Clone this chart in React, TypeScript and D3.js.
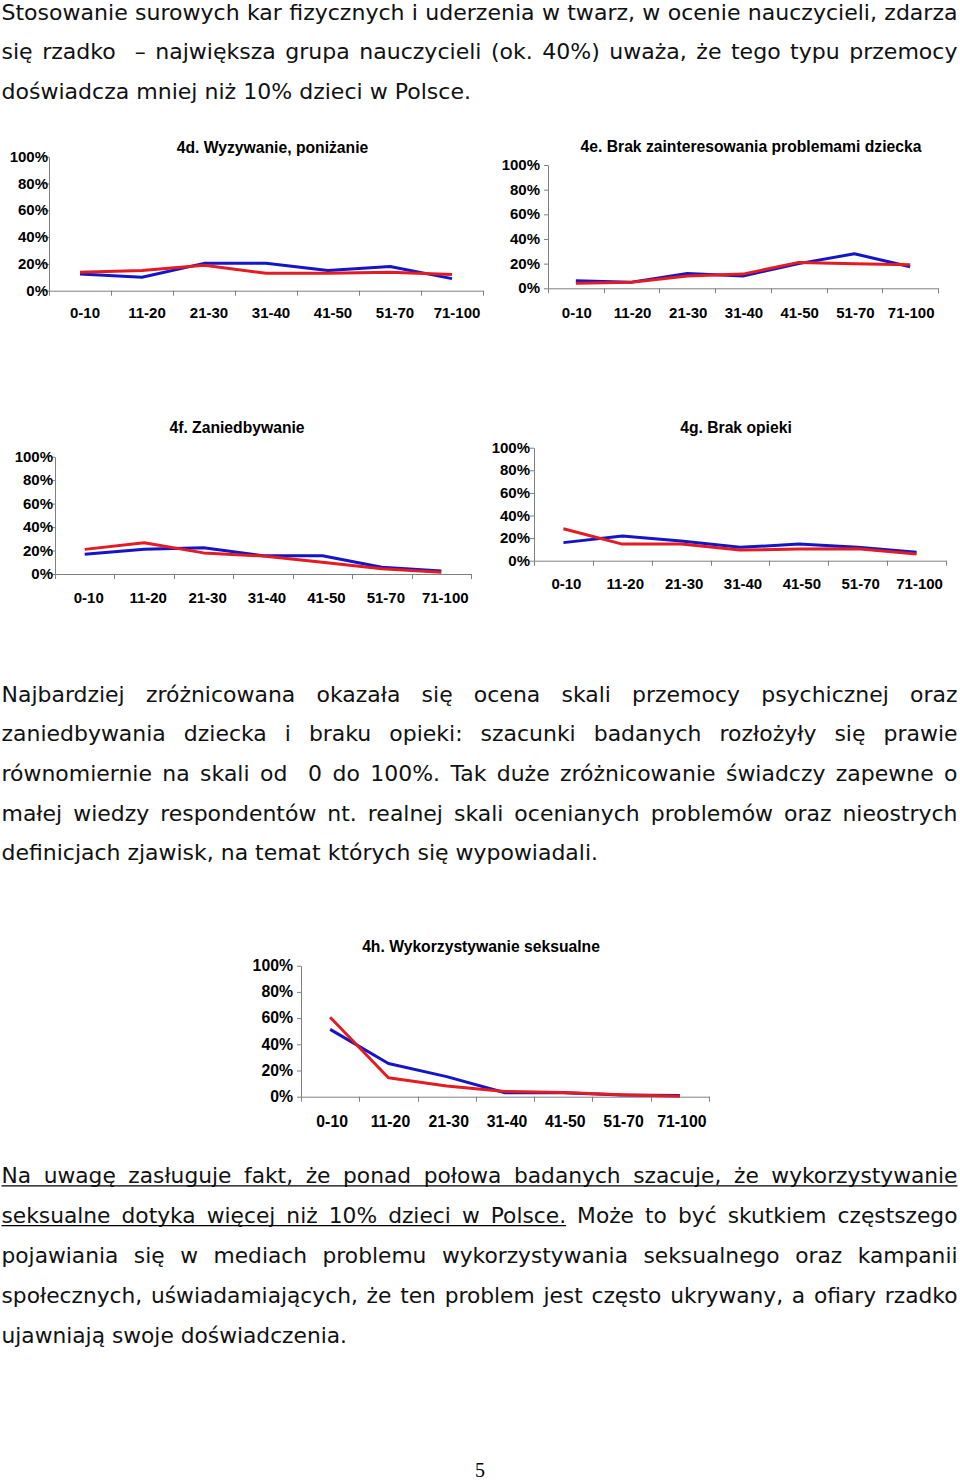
import React, { useRef, useEffect } from 'react';
import * as d3 from 'd3';

// age brackets (% of children affected)
const categories = ['0-10', '11-20', '21-30', '31-40', '41-50', '51-70', '71-100'];
const yTicks = [0, 20, 40, 60, 80, 100];

const blue4d = [12.4, 10, 20.4, 20.4, 15, 18, 9];
const red4d = [13.7, 15, 19, 13, 13, 13.7, 12];
const blue4e = [6.2, 5, 12, 10, 20, 28, 17.5];
const red4e = [4, 5, 10, 11.5, 21, 20, 19];
const blue4f = [16.8, 21, 22.4, 15.6, 15.6, 5.7, 2.6];
const red4f = [21, 26.7, 18, 15.3, 10, 4.5, 1.4];
const blue4g = [16, 21.8, 17.4, 11.8, 14.7, 11.8, 7.4];
const red4g = [28.3, 14.7, 14.7, 9.4, 10.3, 10.6, 5.9];
const blue4h = [51.4, 25.4, 15.3, 3, 3, 1.3, 1];
const red4h = [60.6, 14.5, 8.1, 4, 3.3, 1.5, 0.3];

const para1 = [
  'Stosowanie surowych kar fizycznych i uderzenia w twarz, w ocenie nauczycieli, zdarza',
  'się rzadko  – największa grupa nauczycieli (ok. 40%) uważa, że tego typu przemocy',
  'doświadcza mniej niż 10% dzieci w Polsce.',
];
const para2 = [
  'Najbardziej zróżnicowana okazała się ocena skali przemocy psychicznej oraz',
  'zaniedbywania dziecka i braku opieki: szacunki badanych rozłożyły się prawie',
  'równomiernie na skali od  0 do 100%. Tak duże zróżnicowanie świadczy zapewne o',
  'małej wiedzy respondentów nt. realnej skali ocenianych problemów oraz nieostrych',
  'definicjach zjawisk, na temat których się wypowiadali.',
];
const para3 = [
  'Na uwagę zasługuje fakt, że ponad połowa badanych szacuje, że wykorzystywanie',
  'seksualne dotyka więcej niż 10% dzieci w Polsce. Może to być skutkiem częstszego',
  'pojawiania się w mediach problemu wykorzystywania seksualnego oraz kampanii',
  'społecznych, uświadamiających, że ten problem jest często ukrywany, a ofiary rzadko',
  'ujawniają swoje doświadczenia.',
];

const BLUE = '#1515c8';
const RED = '#e31b23';
const AXIS = '#808080';
const CHART_FONT = '"Liberation Sans", Arial, sans-serif';
const BODY_FONT = '"DejaVu Sans", Verdana, sans-serif';

const charts = [
  { title: '4d. Wyzywanie, poniżanie', blue: blue4d, red: red4d, x0: 49, x1: 483, yTop: 156.7, y0: 290.7, gap: 1, labelY: 318, labelDx: 5, tx: 272.5, ty: 153, fs: 15 },
  { title: '4e. Brak zainteresowania problemami dziecka', blue: blue4e, red: red4e, x0: 548, x1: 938, yTop: 165, y0: 288.3, gap: 8, labelY: 318, labelDx: 1, tx: 751, ty: 152, fs: 15 },
  { title: '4f. Zaniedbywanie', blue: blue4f, red: red4f, x0: 55, x1: 471, yTop: 456.7, y0: 574, gap: 2, labelY: 603, labelDx: 4, tx: 237, ty: 433, fs: 15 },
  { title: '4g. Brak opieki', blue: blue4g, red: red4g, x0: 534, x1: 946, yTop: 447.7, y0: 560.7, gap: 4, labelY: 589, labelDx: 3, tx: 736, ty: 432.5, fs: 15 },
  { title: '4h. Wykorzystywanie seksualne', blue: blue4h, red: red4h, x0: 301, x1: 709, yTop: 965.7, y0: 1096.7, gap: 8, labelY: 1127, labelDx: 2, tx: 481, ty: 951.5, fs: 15.8 },
];

const paras = [
  { lines: para1, baselines: [19.5, 59.2, 98.8], lastEnd: 471, underline: [0, 0, 0] },
  { lines: para2, baselines: [701.5, 741.2, 780.9, 820.6, 860.3], lastEnd: 598, underline: [0, 0, 0, 0, 0] },
  { lines: para3, baselines: [1183.3, 1223.1, 1262.9, 1302.7, 1342.5], lastEnd: 347, underline: [99, 8, 0, 0, 0] },
];

const LEFT = 1.5;
const RIGHT = 957.5;
const BODY_SIZE = 20.5;

function drawChart(svg: any, c: any) {
  const x = d3.scaleBand().domain(categories).range([c.x0, c.x1]);
  const y = d3.scaleLinear().domain([0, 100]).range([c.y0, c.yTop]);
  const g = svg.append('g');

  const ya = g.append('g')
    .attr('transform', `translate(${c.x0},0)`)
    .call(d3.axisLeft(y).tickValues(yTicks).tickSize(4).tickSizeOuter(0)
      .tickPadding(c.gap - 4).tickFormat((d: any) => d + '%'));
  ya.attr('font-family', CHART_FONT).attr('font-size', c.fs).attr('font-weight', 'bold');
  ya.select('.domain').attr('stroke', AXIS);
  ya.selectAll('.tick line').attr('stroke', AXIS);
  ya.selectAll('text').attr('fill', '#000').attr('dy', '0.3em');

  const xa = g.append('g')
    .attr('transform', `translate(0,${c.y0})`)
    .call(d3.axisBottom(x).tickSize(0).tickSizeOuter(0));
  xa.attr('font-family', CHART_FONT).attr('font-size', c.fs).attr('font-weight', 'bold');
  xa.select('.domain').attr('stroke', AXIS);
  xa.selectAll('text').attr('fill', '#000').attr('y', c.labelY - c.y0).attr('dy', 0).attr('dx', c.labelDx);

  const bounds = [...categories.map(d => x(d) as number), c.x1];
  g.selectAll('line.bt').data(bounds).join('line')
    .attr('x1', (d: number) => Math.round(d) + 0.5).attr('x2', (d: number) => Math.round(d) + 0.5)
    .attr('y1', c.y0).attr('y2', c.y0 + 5)
    .attr('stroke', AXIS);

  const line = d3.line<number>()
    .x((_, i) => (x(categories[i]) as number) + x.bandwidth() / 2)
    .y(d => y(d));

  [[c.blue, BLUE], [c.red, RED]].forEach(([vals, col]) => {
    g.append('path').attr('d', line(vals as number[]))
      .attr('fill', 'none').attr('stroke', col as string)
      .attr('stroke-width', 3).attr('stroke-linejoin', 'round');
  });

  g.append('text').attr('x', c.tx).attr('y', c.ty)
    .attr('text-anchor', 'middle').attr('font-family', CHART_FONT)
    .attr('font-weight', 'bold').attr('font-size', 15.7).attr('fill', '#000')
    .text(c.title);
}

function drawPara(svg: any, p: any) {
  const probe = svg.append('text').attr('font-family', BODY_FONT).attr('font-size', BODY_SIZE);
  const measure = (s: string) => {
    if (!s) return 0;
    probe.text(s);
    return (probe.node() as SVGTextElement).getComputedTextLength();
  };
  const spaceW = measure('a a') - measure('aa');
  const tokens = p.lines.map((l: string) => l.split(' '));
  const widths = tokens.map((t: string[]) => t.map(measure));
  probe.remove();

  const n = tokens.length;
  const lastW = widths[n - 1];
  const natural = d3.sum(lastW) + (lastW.length - 1) * spaceW;
  const k = (p.lastEnd - LEFT) / natural;

  tokens.forEach((toks: string[], li: number) => {
    const ws = widths[li].map((w: number) => w * k);
    const last = li === n - 1;
    const gapW = last ? spaceW * k : (RIGHT - LEFT - d3.sum(ws)) / (toks.length - 1);
    let xPos = LEFT;
    const ends: number[] = [];
    toks.forEach((t, i) => {
      if (t) {
        svg.append('text').attr('x', xPos).attr('y', p.baselines[li])
          .attr('font-family', BODY_FONT).attr('font-size', BODY_SIZE).attr('fill', '#111')
          .attr('textLength', ws[i]).attr('lengthAdjust', 'spacingAndGlyphs')
          .text(t);
      }
      xPos += ws[i];
      ends.push(xPos);
      xPos += gapW;
    });
    const u = Math.min(p.underline[li], toks.length);
    if (u > 0) {
      svg.append('line').attr('x1', LEFT).attr('x2', ends[u - 1])
        .attr('y1', p.baselines[li] + 2.6).attr('y2', p.baselines[li] + 2.6)
        .attr('stroke', '#000').attr('stroke-width', 1.3);
    }
  });
}

export default function App() {
  const ref = useRef<SVGSVGElement>(null);

  useEffect(() => {
    const svg = d3.select(ref.current);
    svg.selectAll('*').remove();

    paras.forEach(p => drawPara(svg, p));
    charts.forEach(c => drawChart(svg, c));

    svg.append('text').attr('x', 480).attr('y', 1476.5)
      .attr('text-anchor', 'middle').attr('font-family', '"Liberation Serif", "Times New Roman", serif')
      .attr('font-size', 20).attr('fill', '#000').text('5');

    return () => { svg.selectAll('*').remove(); };
  }, []);

  return (
    <svg ref={ref} width={960} height={1482}
      style={{ position: 'absolute', left: 0, top: 0, background: '#fff', display: 'block' }} />
  );
}
